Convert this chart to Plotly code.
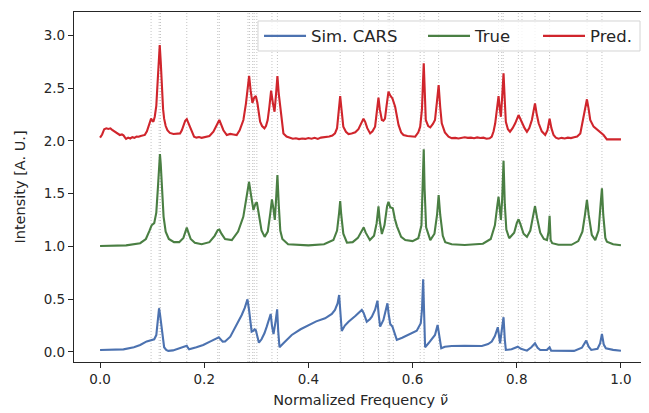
import plotly.graph_objects as go

# ---------------- data ----------------
peak_positions = [0.098, 0.1135, 0.116, 0.1665, 0.226, 0.229, 0.284, 0.287, 0.293, 0.296,
                  0.301, 0.33, 0.3405, 0.461, 0.506, 0.5345, 0.553, 0.556, 0.563, 0.6146,
                  0.622, 0.65, 0.765, 0.771, 0.774, 0.803, 0.81, 0.835, 0.863, 0.935, 0.9635]

cars_x = [0.000, 0.020, 0.045, 0.065, 0.077, 0.0896, 0.098, 0.104, 0.108, 0.111, 0.1133, 0.115,
          0.117, 0.120, 0.123, 0.127, 0.131, 0.140, 0.147, 0.155, 0.163, 0.1665, 0.169, 0.171,
          0.185, 0.198, 0.212, 0.222, 0.228, 0.2355, 0.240, 0.250, 0.259, 0.266, 0.272, 0.278,
          0.283, 0.286, 0.289, 0.291, 0.294, 0.297, 0.299, 0.302, 0.305, 0.310, 0.3156, 0.320,
          0.3276, 0.330, 0.333, 0.337, 0.340, 0.342, 0.3445, 0.352, 0.368, 0.385, 0.400, 0.415,
          0.432, 0.445, 0.451, 0.456, 0.459, 0.461, 0.464, 0.470, 0.477, 0.490, 0.5025, 0.506,
          0.512, 0.518, 0.5218, 0.528, 0.5325, 0.535, 0.5377, 0.544, 0.548, 0.5517, 0.554, 0.557,
          0.5613, 0.5697, 0.580, 0.592, 0.608, 0.6157, 0.618, 0.6203, 0.622, 0.624, 0.6305, 0.640,
          0.643, 0.648, 0.651, 0.655, 0.662, 0.675, 0.700, 0.733, 0.745, 0.752, 0.758, 0.7636,
          0.766, 0.768, 0.771, 0.7746, 0.777, 0.779, 0.790, 0.797, 0.802, 0.808, 0.8195, 0.828,
          0.835, 0.840, 0.845, 0.858, 0.863, 0.866, 0.880, 0.910, 0.925, 0.9333, 0.938, 0.943,
          0.955, 0.960, 0.9635, 0.967, 0.971, 0.985, 1.000]
cars_y = [0.019, 0.020, 0.025, 0.045, 0.066, 0.100, 0.114, 0.120, 0.160, 0.300, 0.414, 0.360,
          0.270, 0.120, 0.045, 0.020, 0.010, 0.015, 0.025, 0.035, 0.050, 0.058, 0.038, 0.025,
          0.045, 0.066, 0.100, 0.125, 0.140, 0.098, 0.100, 0.145, 0.224, 0.290, 0.350, 0.420,
          0.499, 0.400, 0.260, 0.192, 0.200, 0.215, 0.208, 0.140, 0.088, 0.120, 0.177, 0.240,
          0.360, 0.250, 0.170, 0.290, 0.404, 0.200, 0.045, 0.082, 0.161, 0.215, 0.256, 0.290,
          0.319, 0.360, 0.398, 0.460, 0.540, 0.400, 0.199, 0.250, 0.287, 0.341, 0.398, 0.370,
          0.287, 0.310, 0.334, 0.400, 0.486, 0.350, 0.240, 0.303, 0.380, 0.461, 0.360, 0.265,
          0.240, 0.114, 0.135, 0.161, 0.202, 0.272, 0.400, 0.688, 0.300, 0.045, 0.082, 0.140,
          0.161, 0.256, 0.140, 0.035, 0.050, 0.057, 0.058, 0.057, 0.075, 0.098, 0.150, 0.234,
          0.150, 0.082, 0.200, 0.329, 0.120, 0.019, 0.025, 0.040, 0.050, 0.030, 0.012, 0.045,
          0.082, 0.040, 0.019, 0.020, 0.045, 0.012, 0.010, 0.010, 0.040, 0.107, 0.050, 0.019,
          0.030, 0.080, 0.170, 0.070, 0.035, 0.020, 0.012]

true_x = [0.000, 0.050, 0.077, 0.088, 0.095, 0.099, 0.104, 0.108, 0.111, 0.1135, 0.115, 0.1165,
          0.119, 0.122, 0.126, 0.132, 0.142, 0.152, 0.160, 0.1645, 0.1665, 0.169, 0.174, 0.182,
          0.195, 0.210, 0.220, 0.226, 0.229, 0.233, 0.240, 0.253, 0.265, 0.275, 0.281, 0.286,
          0.290, 0.2945, 0.298, 0.301, 0.305, 0.310, 0.316, 0.322, 0.327, 0.330, 0.333, 0.3355,
          0.338, 0.3405, 0.343, 0.346, 0.350, 0.361, 0.400, 0.430, 0.448, 0.455, 0.459, 0.461,
          0.463, 0.467, 0.474, 0.485, 0.495, 0.502, 0.506, 0.510, 0.518, 0.526, 0.531, 0.5345,
          0.537, 0.541, 0.546, 0.551, 0.5537, 0.557, 0.562, 0.566, 0.570, 0.578, 0.586, 0.600,
          0.611, 0.617, 0.620, 0.6214, 0.623, 0.626, 0.634, 0.642, 0.647, 0.650, 0.653, 0.658,
          0.6626, 0.675, 0.700, 0.735, 0.750, 0.758, 0.763, 0.765, 0.7675, 0.7695, 0.772, 0.7746,
          0.777, 0.780, 0.7855, 0.795, 0.800, 0.8034, 0.807, 0.813, 0.8195, 0.826, 0.831, 0.835,
          0.839, 0.845, 0.852, 0.858, 0.861, 0.863, 0.865, 0.868, 0.880, 0.905, 0.918, 0.926,
          0.931, 0.9347, 0.938, 0.944, 0.9507, 0.957, 0.961, 0.9635, 0.966, 0.970, 0.973, 0.985,
          1.000]
true_y = [1.003, 1.010, 1.030, 1.070, 1.150, 1.200, 1.220, 1.320, 1.550, 1.800, 1.875, 1.780,
          1.500, 1.280, 1.140, 1.070, 1.040, 1.040, 1.080, 1.150, 1.177, 1.140, 1.070, 1.035,
          1.020, 1.040, 1.100, 1.155, 1.160, 1.120, 1.070, 1.060, 1.140, 1.280, 1.450, 1.610,
          1.480, 1.345, 1.400, 1.420, 1.300, 1.150, 1.090, 1.140, 1.320, 1.445, 1.350, 1.250,
          1.450, 1.676, 1.400, 1.150, 1.070, 1.020, 1.010, 1.020, 1.060, 1.150, 1.320, 1.430,
          1.300, 1.120, 1.035, 1.040, 1.080, 1.140, 1.180, 1.130, 1.060, 1.100, 1.220, 1.380,
          1.240, 1.117, 1.200, 1.380, 1.423, 1.370, 1.360, 1.260, 1.190, 1.090, 1.060, 1.050,
          1.077, 1.200, 1.600, 1.920, 1.550, 1.180, 1.060, 1.120, 1.300, 1.487, 1.300, 1.100,
          1.040, 1.020, 1.013, 1.025, 1.070, 1.200, 1.400, 1.470, 1.350, 1.250, 1.450, 1.810,
          1.400, 1.160, 1.077, 1.130, 1.220, 1.257, 1.210, 1.120, 1.090, 1.150, 1.280, 1.380,
          1.270, 1.130, 1.070, 1.060, 1.140, 1.290, 1.060, 1.030, 1.015, 1.015, 1.050, 1.140,
          1.300, 1.440, 1.300, 1.110, 1.060, 1.150, 1.400, 1.550, 1.300, 1.080, 1.045, 1.020,
          1.010]

pred_x = [0.000, 0.004, 0.008, 0.012, 0.016, 0.020, 0.024, 0.028, 0.033, 0.038, 0.042, 0.045,
          0.048, 0.050, 0.054, 0.058, 0.062, 0.066, 0.070, 0.074, 0.078, 0.082, 0.086, 0.090,
          0.093, 0.096, 0.098, 0.1005, 0.1024, 0.105, 0.108, 0.110, 0.1125, 0.1146, 0.1165,
          0.1184, 0.121, 0.123, 0.126, 0.1293, 0.134, 0.141, 0.147, 0.1536, 0.157, 0.160, 0.1635,
          0.1665, 0.170, 0.1728, 0.1765, 0.1805, 0.185, 0.190, 0.195, 0.200, 0.205, 0.210, 0.2176,
          0.222, 0.226, 0.229, 0.232, 0.2368, 0.2433, 0.250, 0.256, 0.2623, 0.268, 0.2752, 0.280,
          0.2835, 0.2862, 0.289, 0.2925, 0.296, 0.299, 0.302, 0.3045, 0.3073, 0.311, 0.3156,
          0.3185, 0.3218, 0.325, 0.3284, 0.332, 0.335, 0.338, 0.3405, 0.343, 0.3457, 0.349, 0.352,
          0.358, 0.364, 0.370, 0.376, 0.382, 0.388, 0.394, 0.400, 0.406, 0.412, 0.418, 0.424,
          0.432, 0.440, 0.446, 0.451, 0.455, 0.458, 0.461, 0.4635, 0.467, 0.472, 0.477, 0.483,
          0.490, 0.496, 0.500, 0.503, 0.5057, 0.509, 0.513, 0.5185, 0.523, 0.528, 0.531, 0.5345,
          0.537, 0.541, 0.544, 0.547, 0.550, 0.5537, 0.557, 0.5613, 0.5665, 0.570, 0.573, 0.578,
          0.5825, 0.590, 0.598, 0.605, 0.611, 0.6146, 0.618, 0.6214, 0.6235, 0.6253, 0.630, 0.634,
          0.639, 0.643, 0.647, 0.650, 0.653, 0.656, 0.662, 0.669, 0.675, 0.682, 0.688, 0.694,
          0.700, 0.706, 0.712, 0.718, 0.724, 0.730, 0.736, 0.742, 0.748, 0.752, 0.7555, 0.7586,
          0.762, 0.765, 0.7675, 0.7695, 0.772, 0.7746, 0.777, 0.779, 0.783, 0.787, 0.792, 0.797,
          0.8034, 0.807, 0.811, 0.815, 0.8195, 0.824, 0.829, 0.835, 0.838, 0.842, 0.848, 0.8546,
          0.859, 0.863, 0.8665, 0.8706, 0.875, 0.880, 0.886, 0.892, 0.898, 0.904, 0.910, 0.916,
          0.922, 0.928, 0.9347, 0.938, 0.941, 0.9475, 0.953, 0.960, 0.9666, 0.973, 0.985, 1.000]
pred_y = [2.030, 2.060, 2.110, 2.118, 2.112, 2.118, 2.100, 2.086, 2.070, 2.055, 2.060, 2.052,
          2.030, 2.018, 2.030, 2.022, 2.034, 2.028, 2.040, 2.038, 2.046, 2.048, 2.056, 2.090,
          2.134, 2.190, 2.210, 2.190, 2.180, 2.228, 2.330, 2.512, 2.760, 2.907, 2.750,
          2.512, 2.300, 2.210, 2.140, 2.100, 2.075, 2.064, 2.068, 2.070, 2.100, 2.150, 2.190,
          2.206, 2.160, 2.134, 2.080, 2.039, 2.030, 2.036, 2.028, 2.034, 2.033, 2.045, 2.086,
          2.130, 2.180, 2.197, 2.160, 2.100, 2.055, 2.065, 2.060, 2.055, 2.100, 2.197, 2.350,
          2.500, 2.614, 2.480, 2.360, 2.410, 2.424, 2.360, 2.260, 2.180, 2.140, 2.118,
          2.140, 2.197, 2.320, 2.475, 2.350, 2.276, 2.450, 2.614, 2.450, 2.323, 2.170, 2.070,
          2.040, 2.028, 2.020, 2.024, 2.016, 2.022, 2.018, 2.026, 2.020, 2.028, 2.018, 2.030,
          2.033, 2.040, 2.050, 2.070, 2.120, 2.280, 2.424, 2.300, 2.134, 2.085, 2.064, 2.070,
          2.080, 2.110, 2.150, 2.190, 2.210, 2.180, 2.120, 2.070, 2.090, 2.134, 2.260, 2.410,
          2.300, 2.197, 2.190, 2.210, 2.330, 2.465, 2.430, 2.402, 2.323, 2.230, 2.150, 2.080,
          2.055, 2.045, 2.040, 2.039, 2.080, 2.134, 2.300, 2.734, 2.450, 2.197, 2.140, 2.128,
          2.160, 2.197, 2.380, 2.528, 2.320, 2.166, 2.080, 2.039, 2.025, 2.028, 2.022, 2.030,
          2.034, 2.028, 2.030, 2.024, 2.032, 2.026, 2.030, 2.020, 2.024, 2.039, 2.090, 2.166,
          2.330, 2.424, 2.300, 2.228, 2.420, 2.640, 2.380, 2.180, 2.110, 2.086, 2.120, 2.166,
          2.244, 2.200, 2.166, 2.120, 2.086, 2.120, 2.197, 2.355, 2.260, 2.166, 2.090, 2.055,
          2.100, 2.210, 2.120, 2.055, 2.030, 2.020, 2.028, 2.022, 2.030, 2.026, 2.034, 2.040,
          2.070, 2.228, 2.393, 2.300, 2.197, 2.134, 2.110, 2.086, 2.055, 2.014, 2.014, 2.014]

series_names = ["Sim. CARS", "True", "Pred."]
x_ticks = [0.0, 0.2, 0.4, 0.6, 0.8, 1.0]
y_ticks = [0.0, 0.5, 1.0, 1.5, 2.0, 2.5, 3.0]

# ---------------- figure ----------------
colors = ["#4c72b0", "#4a7f43", "#d0252c"]
legend_ids = ["legend", "legend2", "legend3"]
legend_x = [0.3229, 0.6091, 0.8098]

fig = go.Figure()
for name, xs, ys, c, lg in zip(series_names, [cars_x, true_x, pred_x],
                               [cars_y, true_y, pred_y], colors, legend_ids):
    fig.add_trace(go.Scatter(x=xs, y=ys, mode="lines", name=name, legend=lg,
                             line=dict(color=c, width=2.1)))

for p in peak_positions:
    fig.add_shape(type="line", xref="x", yref="paper", x0=p, x1=p, y0=0, y1=1,
                  line=dict(color="#c4c4c4", width=1, dash="1px,2px"), layer="below")

# legend frame
fig.add_shape(type="rect", xref="paper", yref="paper", x0=0.3211, x1=0.9878, y0=0.8886, y1=0.9743,
              line=dict(color="#d4d4d4", width=1), fillcolor="rgba(255,255,255,0.8)", layer="above")

axis_common = dict(showline=True, mirror=True, linecolor="#262626", linewidth=1.25,
                   ticks="outside", ticklen=5, tickwidth=1.25, tickcolor="#262626",
                   showgrid=False, zeroline=False, tickfont=dict(size=13.5, color="#262626"),
                   tickformat=".1f")

legend_common = dict(orientation="h", yanchor="middle", y=0.931, xanchor="left",
                     bgcolor="rgba(0,0,0,0)", borderwidth=0, itemwidth=42,
                     font=dict(size=16.5, color="#262626"))

fig.update_layout(
    width=641, height=405,
    margin=dict(l=66, r=2, t=4, b=51, autoexpand=False),
    plot_bgcolor="white", paper_bgcolor="white",
    font=dict(family="DejaVu Sans", size=13.5, color="#262626"),
    xaxis=dict(range=[-0.05, 1.05], tickvals=x_ticks,
               title=dict(text="Normalized Frequency <i>ν̃</i>", font=dict(size=14.5), standoff=8),
               **axis_common),
    yaxis=dict(range=[-0.095, 3.22], tickvals=y_ticks,
               title=dict(text="Intensity [A. U.]", font=dict(size=14.5), standoff=14),
               **axis_common),
    legend=dict(x=legend_x[0], **legend_common),
    legend2=dict(x=legend_x[1], **legend_common),
    legend3=dict(x=legend_x[2], **legend_common),
    showlegend=True,
)

fig.write_html("out.html")
